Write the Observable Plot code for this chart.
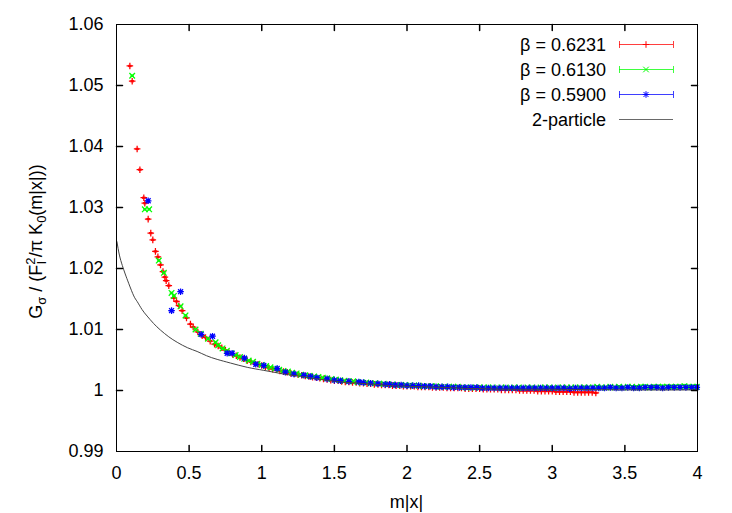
<!DOCTYPE html>
<html><head><meta charset="utf-8">
<script src="https://cdn.jsdelivr.net/npm/d3@7"></script>
<script src="https://cdn.jsdelivr.net/npm/@observablehq/plot@0.6"></script>
<style>
body{margin:0;background:#fff}
#chart svg{font-family:"Liberation Sans",Arial,Helvetica,sans-serif}
</style>
</head><body><div id="chart"></div>
<script>
// ---------- data ----------
const xTicks = [0, 0.5, 1, 1.5, 2, 2.5, 3, 3.5, 4];
const yTicks = [0.99, 1.0, 1.01, 1.02, 1.03, 1.04, 1.05, 1.06];
const seriesNames = ["β = 0.6231", "β = 0.6130", "β = 0.5900", "2-particle"];
const seriesColors = ["#ff0000", "#00ff00", "#0000ff", "#444444"];
const xLabel = "m|x|";

// [m|x|, ratio, error?]  (error defaults to 0.0001)
const beta6231 = [
 [0.092,1.0532],[0.108,1.0507],[0.142,1.0396],[0.161,1.0362],[0.188,1.0316],[0.195,1.0307],
 [0.218,1.0281],[0.236,1.0258],[0.250,1.0247],[0.268,1.0228],[0.285,1.0219],[0.303,1.0206],
 [0.320,1.0195],[0.333,1.0186],[0.342,1.0180],[0.360,1.0172],[0.395,1.0152],[0.413,1.0146],
 [0.430,1.0139],[0.452,1.0131],[0.482,1.0119],[0.509,1.0109],[0.528,1.0104],[0.560,1.0096],
 [0.590,1.0090],[0.613,1.0087],[0.645,1.0081],[0.675,1.0076],
 [0.700,1.0073],[0.725,1.0070],[0.750,1.0066],[0.775,1.0062],[0.800,1.0059],[0.825,1.0057],
 [0.850,1.0054],[0.875,1.0052],[0.900,1.0049],[0.925,1.0047],[0.950,1.0045],[0.975,1.0043],
 [1.000,1.0041],[1.025,1.0039],[1.050,1.0037],[1.075,1.0035],[1.100,1.0034],[1.125,1.0032],
 [1.150,1.0031],[1.175,1.0030],[1.200,1.0028],[1.225,1.0027],[1.250,1.0026],[1.275,1.0025],
 [1.300,1.0024],[1.325,1.0023],[1.350,1.0022],[1.375,1.0021],[1.400,1.0020],[1.425,1.0019],
 [1.450,1.0018],[1.475,1.0017],[1.500,1.0016],[1.525,1.0016],[1.550,1.0015],[1.575,1.0014],
 [1.600,1.0014],[1.625,1.0013],[1.650,1.0013],[1.675,1.0012],[1.700,1.0012],[1.725,1.0011],
 [1.750,1.0011],[1.775,1.0010],[1.800,1.0010],[1.825,1.0009],[1.850,1.0009],[1.875,1.0009],
 [1.900,1.0008],[1.925,1.0008],[1.950,1.0008],[1.975,1.0007],[2.000,1.0007],[2.025,1.0007],
 [2.050,1.0007],[2.075,1.0006],[2.100,1.0006],[2.125,1.0006],[2.150,1.0006],[2.175,1.0005],
 [2.200,1.0005],[2.225,1.0005],[2.250,1.0005],[2.275,1.0004],[2.300,1.0004],[2.325,1.0004],
 [2.350,1.0004],[2.375,1.0004],[2.400,1.0003],[2.425,1.0003],[2.450,1.0003],[2.475,1.0003],
 [2.500,1.0003],[2.525,1.0002],[2.550,1.0002],[2.575,1.0002],[2.600,1.0002],[2.625,1.0002],
 [2.650,1.0001],[2.675,1.0001],[2.700,1.0001],[2.725,1.0001],[2.750,1.0001],[2.775,1.0000],
 [2.800,1.0000],[2.825,1.0000],[2.850,1.0000],[2.875,1.0000],[2.900,0.9999],[2.925,0.9999],
 [2.950,0.9999],[2.975,0.9999],[3.000,0.9999],[3.025,0.9998],[3.050,0.9998],[3.075,0.9998],
 [3.100,0.9998],[3.125,0.9998],[3.150,0.9997],[3.175,0.9997],[3.200,0.9997],[3.225,0.9997],
 [3.250,0.9997],[3.275,0.9997],[3.300,0.9996]
];
const beta6130 = [
 [0.108,1.0516],[0.195,1.0297],[0.225,1.0297],[0.291,1.0213],[0.326,1.0193],[0.379,1.0160],
 [0.395,1.0155],[0.441,1.0138],[0.475,1.0123],[0.544,1.0100],[0.580,1.0093],[0.630,1.0085],
 [0.682,1.0079],
 [0.700,1.0074],[0.730,1.0069],[0.760,1.0065],[0.790,1.0061],[0.820,1.0058],[0.850,1.0055],
 [0.880,1.0052],[0.910,1.0049],[0.940,1.0047],[0.970,1.0044],[1.000,1.0042],[1.030,1.0040],
 [1.060,1.0038],[1.090,1.0036],[1.120,1.0034],[1.150,1.0032],[1.180,1.0031],[1.210,1.0029],
 [1.240,1.0028],[1.270,1.0026],[1.300,1.0025],[1.330,1.0024],[1.360,1.0023],[1.390,1.0022],
 [1.420,1.0021],[1.450,1.0020],[1.480,1.0019],[1.510,1.0018],[1.540,1.0017],[1.570,1.0016],
 [1.600,1.0015],[1.630,1.0015],[1.660,1.0014],[1.690,1.0013],[1.720,1.0013],[1.750,1.0012],
 [1.780,1.0012],[1.810,1.0011],[1.840,1.0011],[1.870,1.0010],[1.900,1.0010],[1.930,1.0009],
 [1.960,1.0009],[1.990,1.0009],[2.020,1.0008],[2.050,1.0008],[2.080,1.0008],[2.110,1.0007],
 [2.140,1.0007],[2.170,1.0007],[2.200,1.0007],[2.230,1.0006],[2.260,1.0006],[2.290,1.0006],
 [2.320,1.0006],[2.350,1.0006],[2.380,1.0005],[2.410,1.0005],[2.440,1.0005],[2.470,1.0005],
 [2.500,1.0005],[2.530,1.0005],[2.560,1.0005],[2.590,1.0005],[2.620,1.0004],[2.650,1.0005],
 [2.680,1.0005],[2.710,1.0004],[2.740,1.0005],[2.770,1.0005],[2.800,1.0004],[2.830,1.0005],
 [2.860,1.0005],[2.890,1.0004],[2.920,1.0005],[2.950,1.0005],[2.980,1.0005],[3.010,1.0004],
 [3.040,1.0005],[3.070,1.0005],[3.100,1.0005],[3.130,1.0005],[3.160,1.0005],[3.190,1.0005],
 [3.220,1.0005,0.0002],[3.250,1.0005,0.0002],[3.280,1.0005,0.0002],[3.310,1.0006,0.0002],
 [3.340,1.0005,0.0002],[3.370,1.0005,0.0002],[3.400,1.0006,0.0002],[3.430,1.0005,0.0002],
 [3.460,1.0006,0.0002],[3.490,1.0005,0.0002],[3.520,1.0006,0.0002],[3.550,1.0006,0.0002],
 [3.580,1.0005,0.0003],[3.610,1.0006,0.0003],[3.640,1.0006,0.0003],[3.670,1.0005,0.0003],
 [3.700,1.0006,0.0003],[3.730,1.0006,0.0003],[3.760,1.0006,0.0003],[3.790,1.0006,0.0003],
 [3.820,1.0006,0.0003],[3.850,1.0006,0.0003],[3.880,1.0006,0.0003],[3.910,1.0007,0.0003],
 [3.940,1.0006,0.0003],[3.970,1.0006,0.0003],[3.995,1.0006,0.0003]
];
const beta5900 = [
 [0.218,1.0311],[0.379,1.0131],[0.441,1.0162],[0.583,1.0092],[0.661,1.0089],[0.762,1.0061],
 [0.796,1.0061],[0.881,1.0053],[0.959,1.0043],[1.014,1.0041],[1.106,1.0036],[1.163,1.0030],
 [1.221,1.0027],[1.290,1.0025],[1.336,1.0023],[1.380,1.0021],[1.450,1.0019],[1.500,1.0017],
 [1.542,1.0016],[1.600,1.0015],[1.668,1.0014],[1.700,1.0013],[1.749,1.0012],[1.800,1.0011],
 [1.850,1.0010],[1.880,1.0010],[1.920,1.0009],[1.960,1.0009],[2.000,1.0008],[2.040,1.0008],
 [2.080,1.0008],[2.120,1.0007],[2.160,1.0007],[2.200,1.0006],[2.240,1.0006],[2.280,1.0006],
 [2.320,1.0005],[2.360,1.0005],[2.400,1.0005],[2.440,1.0005],[2.480,1.0005],[2.520,1.0004],
 [2.560,1.0004],[2.600,1.0004],[2.640,1.0004],[2.680,1.0004],[2.720,1.0004],[2.760,1.0004],
 [2.800,1.0004],[2.840,1.0004],[2.880,1.0004],[2.920,1.0004],[2.960,1.0004],[3.000,1.0004],
 [3.040,1.0004],[3.080,1.0004],[3.120,1.0003],[3.160,1.0004],[3.200,1.0004],[3.240,1.0004],
 [3.280,1.0004],[3.320,1.0004],[3.360,1.0004],[3.400,1.0005,0.0002],[3.440,1.0004,0.0002],
 [3.480,1.0004,0.0002],[3.520,1.0005,0.0002],[3.560,1.0004,0.0002],[3.600,1.0004,0.0002],
 [3.640,1.0005,0.0002],[3.680,1.0005,0.0002],[3.720,1.0005,0.0002],[3.760,1.0004,0.0002],
 [3.800,1.0005,0.0002],[3.840,1.0005,0.0002],[3.880,1.0005,0.0002],[3.920,1.0005,0.0002],
 [3.960,1.0005,0.0002],[3.995,1.0005,0.0002]
];
// 2-particle curve
const twoParticleX = [0.003,0.02,0.04,0.06,0.085,0.119,0.142,0.175,0.211,0.255,0.303,0.36,0.418,0.49,0.555,0.62,0.693,0.785,0.9,1.014,1.152,1.244,1.35,1.473,1.6,1.726,1.886,2.0,2.25,2.5,2.75,3.0,3.5,4.0];
const twoParticleY = [1.0244,1.0222,1.0205,1.0191,1.0175,1.0155,1.0146,1.0133,1.0122,1.0110,1.0099,1.0088,1.0079,1.0070,1.0064,1.0057,1.0051,1.0045,1.0038,1.0033,1.0027,1.0024,1.0020,1.0016,1.0013,1.0011,1.0008,1.0007,1.0005,1.0003,1.0002,1.0002,1.0001,1.0001];

// ---------- symbols ----------
const rad = s => Math.sqrt(s / Math.PI);
const plusSym = {draw(c, s){const r = rad(s); c.moveTo(-r,0); c.lineTo(r,0); c.moveTo(0,-r); c.lineTo(0,r);}};
const crossSym = {draw(c, s){const r = rad(s)*0.85; c.moveTo(-r,-r); c.lineTo(r,r); c.moveTo(-r,r); c.lineTo(r,-r);}};
const starSym = {draw(c, s){const r = rad(s); const q = r*0.75; c.moveTo(-r,0); c.lineTo(r,0); c.moveTo(0,-r); c.lineTo(0,r); c.moveTo(-q,-q); c.lineTo(q,q); c.moveTo(-q,q); c.lineTo(q,-q);}};
const capSym = {draw(c, s){const r = rad(s); c.moveTo(-r,0); c.lineTo(r,0);}};
const tickShape = {draw(c, l){c.moveTo(0,0); c.lineTo(0,-l);}};
const symbols = [plusSym, crossSym, starSym];

const err = d => (d[2] === undefined ? 0.0001 : d[2]);
function seriesMarks(data, i) {
  const col = seriesColors[i];
  return [
    Plot.link(data, {x1: d => d[0], x2: d => d[0], y1: d => d[1] - err(d), y2: d => d[1] + err(d), stroke: col, strokeWidth: 1}),
    Plot.dot(data, {x: d => d[0], y: d => d[1] - err(d), symbol: capSym, r: 1.8, stroke: col, fill: "none", strokeWidth: 1}),
    Plot.dot(data, {x: d => d[0], y: d => d[1] + err(d), symbol: capSym, r: 1.8, stroke: col, fill: "none", strokeWidth: 1}),
    Plot.dot(data, {x: d => d[0], y: d => d[1], symbol: symbols[i], r: 3.3, stroke: col, fill: "none", strokeWidth: 1.25})
  ];
}

const W = 732, H = 513, mL = 116, mR = 35, mT = 24, mB = 62;
const fmt = d => String(+d.toFixed(2));

const chart = Plot.plot({
  width: W, height: H,
  marginLeft: mL, marginRight: mR, marginTop: mT, marginBottom: mB,
  style: {fontFamily: '"Liberation Sans", Arial, Helvetica, sans-serif', fontSize: "18px", background: "white", overflow: "visible"},
  x: {domain: [0, 4], nice: false},
  y: {domain: [0.99, 1.06], nice: false},
  marks: [
    Plot.axisX(xTicks, {tickSize: 0, tickPadding: 15, tickFormat: fmt, label: null, fill: "black"}),
    Plot.axisY(yTicks, {tickSize: 0, tickPadding: 13, tickFormat: fmt, label: null, fill: "black"}),
    ...seriesMarks(beta6231, 0),
    ...seriesMarks(beta6130, 1),
    ...seriesMarks(beta5900, 2),
    Plot.line(twoParticleX.map((x, i) => [x, twoParticleY[i]]), {x: d => d[0], y: d => d[1], stroke: seriesColors[3], strokeWidth: 1, curve: "natural"}),
    Plot.vector(xTicks.slice(1, -1), {x: d => d, frameAnchor: "bottom", length: 6, rotate: 0, anchor: "start", shape: tickShape, stroke: "black"}),
    Plot.vector(xTicks.slice(1, -1), {x: d => d, frameAnchor: "top", length: 6, rotate: 180, anchor: "start", shape: tickShape, stroke: "black"}),
    Plot.vector(yTicks.slice(1, -1), {y: d => d, frameAnchor: "left", length: 6, rotate: 90, anchor: "start", shape: tickShape, stroke: "black"}),
    Plot.vector(yTicks.slice(1, -1), {y: d => d, frameAnchor: "right", length: 6, rotate: -90, anchor: "start", shape: tickShape, stroke: "black"}),
    Plot.frame({stroke: "black", strokeWidth: 1})
  ]
});
document.getElementById("chart").appendChild(chart);

// ---------- labels & key ----------
const svg = d3.select(chart);
svg.append("text").attr("x", (mL + W - mR) / 2).attr("y", 508).attr("text-anchor", "middle")
  .attr("font-size", 18).attr("fill", "black").text(xLabel);

const yl = svg.append("text").attr("transform", `translate(42,${(mT + H - mB) / 2 + 4}) rotate(-90)`)
  .attr("text-anchor", "middle").attr("font-size", 18).attr("fill", "black");
yl.append("tspan").text("G");
yl.append("tspan").attr("dy", 4).attr("font-size", 13).text("σ");
yl.append("tspan").attr("dy", -4).text(" / (F");
yl.append("tspan").attr("dy", -7).attr("font-size", 13).text("2");
yl.append("tspan").attr("dx", -7).attr("dy", 11).attr("font-size", 13).text("I");
yl.append("tspan").attr("dx", 3.5).attr("dy", -4).text("/π K");
yl.append("tspan").attr("dy", 4).attr("font-size", 13).text("0");
yl.append("tspan").attr("dy", -4).text("(m|x|))");

const key = svg.append("g");
const rowY = [44, 69, 94, 119];
const kx1 = 619, kx2 = 673, kxm = 646;
seriesNames.forEach((name, i) => {
  const y = rowY[i] + 0.5;
  key.append("text").attr("x", 606).attr("y", y).attr("dy", "0.35em").attr("text-anchor", "end")
    .attr("font-size", 18).attr("fill", "black").text(name);
  const col = seriesColors[i];
  key.append("line").attr("x1", kx1).attr("x2", kx2).attr("y1", y).attr("y2", y).attr("stroke", col).attr("stroke-width", 1).attr("opacity", i < 3 ? 0.75 : 0.8);
  if (i < 3) {
    [kx1, kx2].forEach(x => key.append("line").attr("x1", x + 0.5).attr("x2", x + 0.5).attr("y1", y - 3.5).attr("y2", y + 3.5).attr("stroke", col).attr("opacity", 0.75));
    const p = d3.path(); symbols[i].draw(p, Math.PI * 3.3 * 3.3);
    key.append("path").attr("d", p.toString()).attr("transform", `translate(${kxm},${y})`).attr("stroke", col).attr("fill", "none");
  }
});
</script>
</body></html>
